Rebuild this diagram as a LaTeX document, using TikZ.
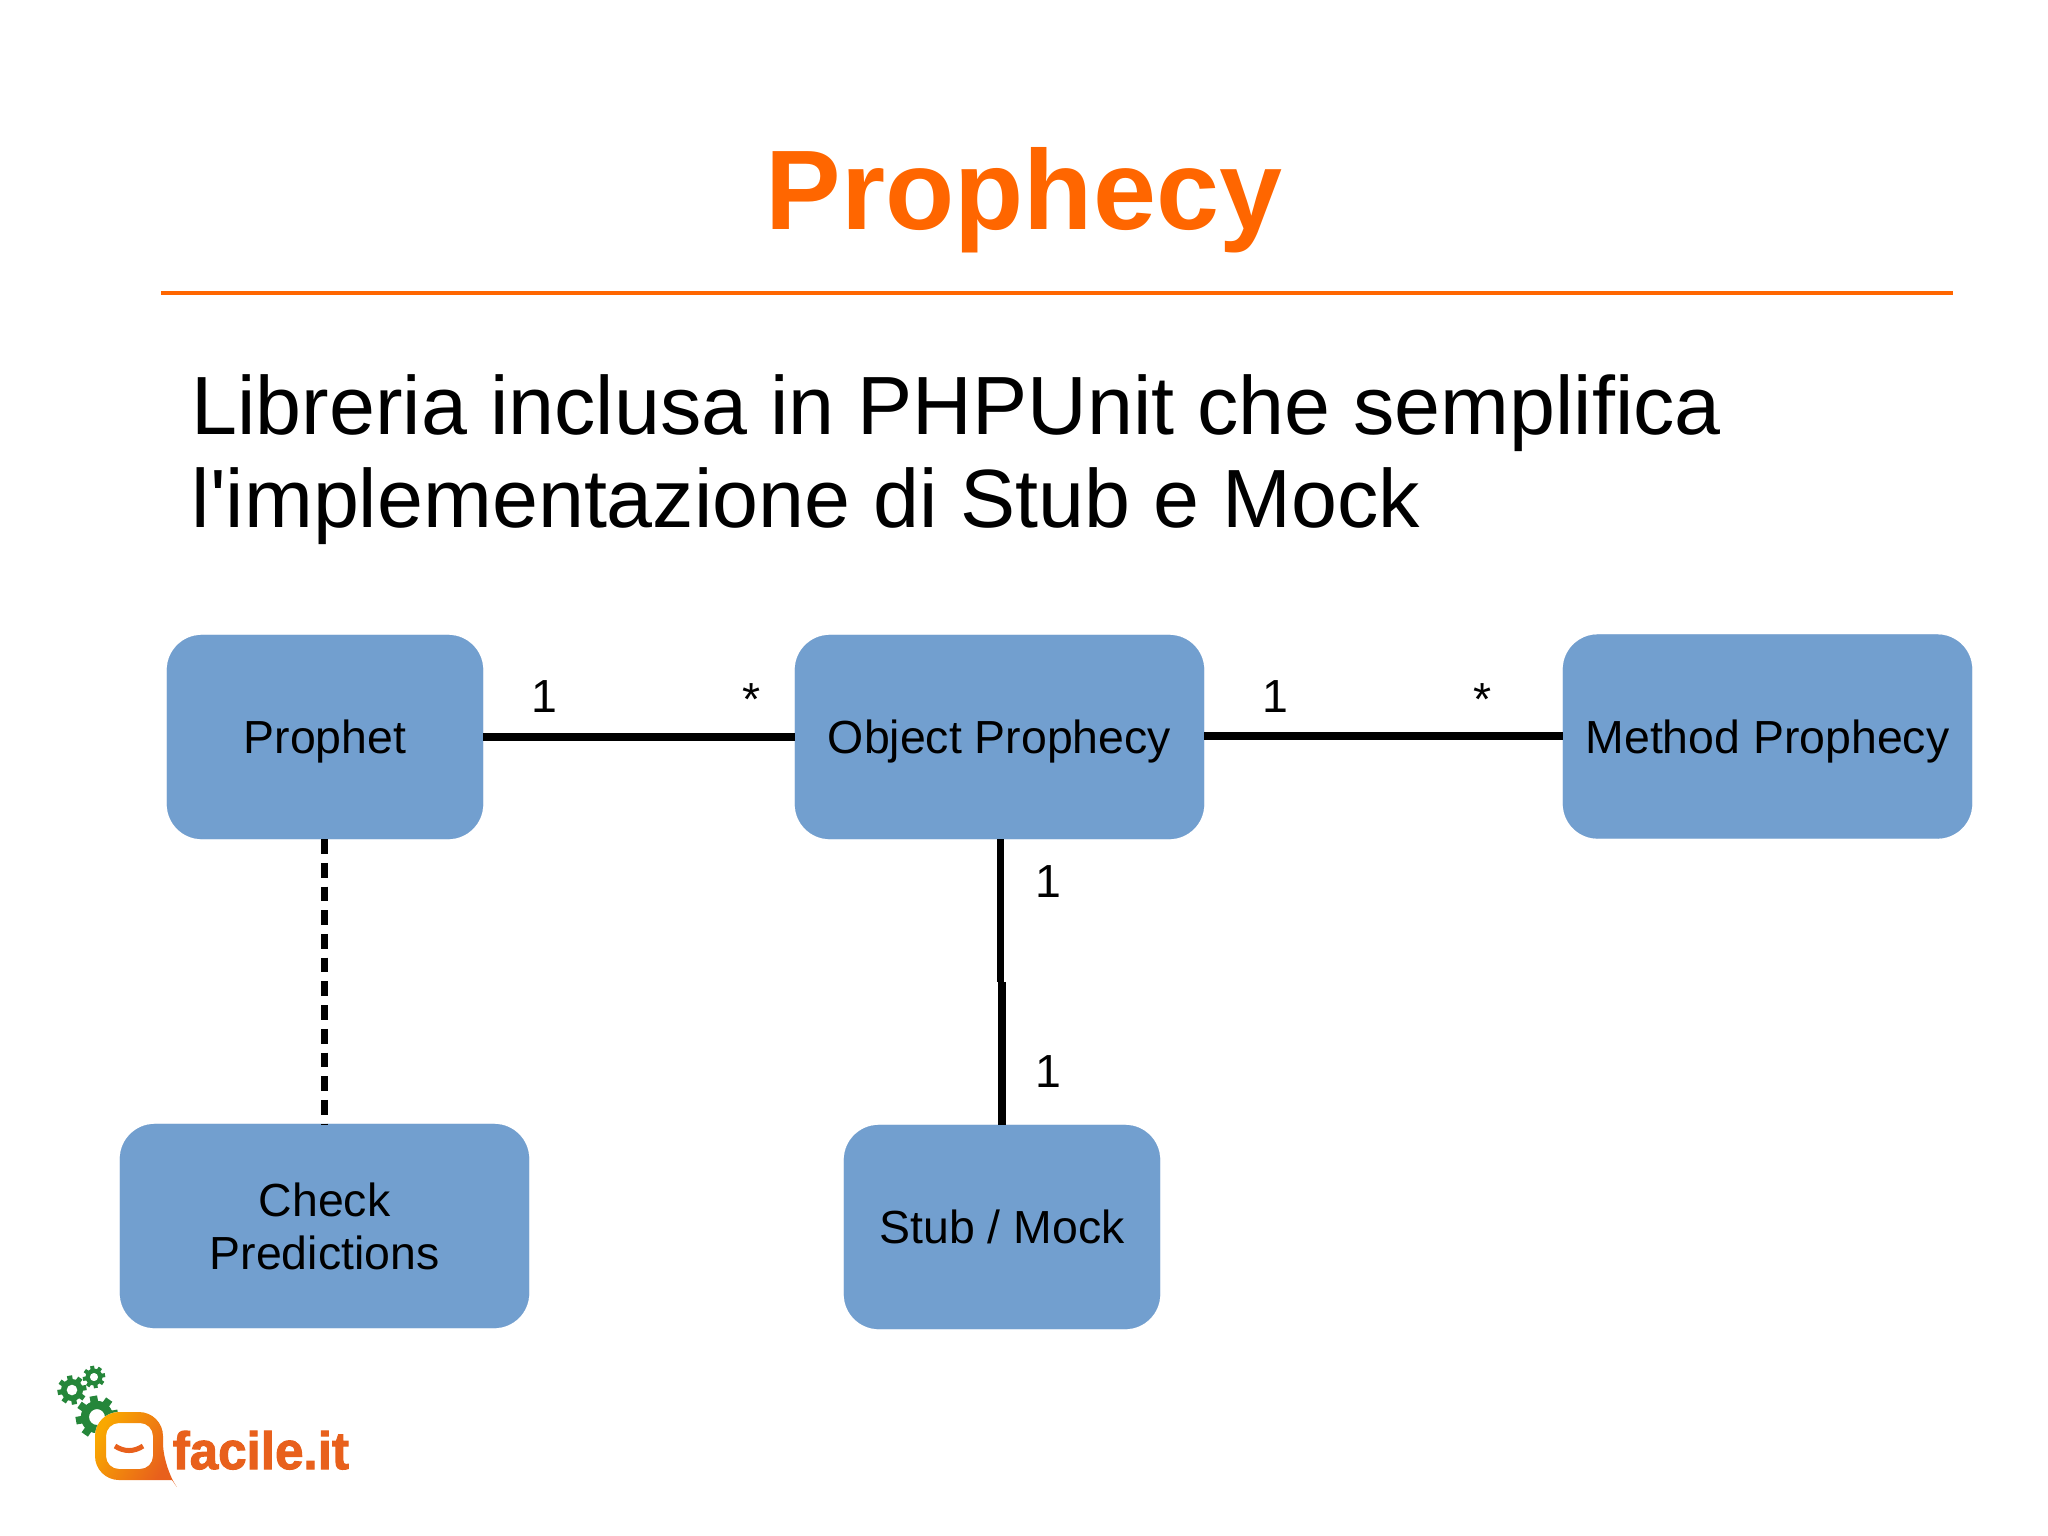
\documentclass[tikz,border=0pt]{standalone}
\usepackage{fontspec}
\setmainfont[Ligatures=TeXOff]{Liberation Sans}
\newfontfamily\logofont[BoldFeatures={FakeBold=2}]{Liberation Sans}
\usetikzlibrary{calc}

\definecolor{titleorange}{HTML}{FF6600}
\definecolor{boxblue}{HTML}{729FCF}
\definecolor{boxedge}{HTML}{6C98C9}
\definecolor{logoorange}{HTML}{E8601C}
\definecolor{logoyellow}{HTML}{F9A800}
\definecolor{geargreen}{HTML}{25863A}

\tikzset{
  classbox/.style={draw=boxedge,line width=0.01mm,fill=boxblue,rounded corners=0.35cm,
    minimum height=2.04cm,align=center,inner sep=0pt,text depth=0pt,
    font=\fontsize{13.2}{14.9}\selectfont},
  mult/.style={inner sep=0pt,font=\fontsize{13.2}{15}\selectfont},
  assoc/.style={line width=0.08cm},
  depend/.style={line width=0.07cm,dash pattern=on 0.147cm off 0.09cm}
}

\newcommand{\gearwheel}[3]{%
  \foreach \a in {0,45,...,315} {\fill[geargreen,shift={(#1,#2)},rotate=\a+10] (#3*0.7,-#3*0.2) rectangle (#3*1.12,#3*0.2);};
  \fill[geargreen,even odd rule] (#1,#2) circle (#3*0.0085cm) (#1,#2) circle (#3*0.0042cm);
}

\begin{document}
\begin{tikzpicture}[x=0.01cm,y=-0.01cm]
    \useasboundingbox (0,0) rectangle (2048,1535);

    \node[anchor=base,text=titleorange,inner sep=0pt,font=\fontsize{32.2}{36}\bfseries\selectfont] (title) at (1024,229) {Prophecy};
    \coordinate (ruleleft) at (161,293);
    \coordinate (ruleright) at (1953,293);
    \draw[titleorange,line width=0.04cm] (ruleleft) -- (ruleright);

    \node[anchor=base west,inner sep=0pt,font=\fontsize{23.5}{26}\selectfont] (lineone) at (191,434) {Libreria inclusa in PHPUnit che semplifica};
    \node[anchor=base west,inner sep=0pt,font=\fontsize{23.5}{26}\selectfont] (linetwo) at (191,527) {l'implementazione di Stub e Mock};

    \node[classbox,minimum width=3.16cm] (prophet) at (325,737) {Prophet};
    \node[classbox,minimum width=4.09cm] (object) at (999.5,737) {Object Prophecy};
    \node[classbox,minimum width=4.09cm] (method) at (1767.5,736.5) {Method Prophecy};
    \node[classbox,minimum width=4.09cm] (check) at (324.5,1226) {Check\\Predictions};
    \node[classbox,minimum width=3.16cm] (stub) at (1002,1227) {Stub / Mock};

    \coordinate (midleft) at (640,736.5);
    \coordinate (midright) at (1384,736);
    \coordinate (middown) at (1000.5,982);
    \coordinate (midcheck) at (324,982);

    \path[assoc] (prophet.east |- midleft) edge (midleft)
          (midleft)                        edge (object.west |- midleft)
          (object.east |- midright)        edge (midright)
          (midright)                       edge (method.west |- midright);
    \path[assoc,line width=0.075cm] (middown |- object.south) edge (middown)
          (middown -| stub.north)          edge (stub.north);
    \path[depend] (midcheck |- prophet.south) edge (midcheck |- check.north);

    \node[mult] (oneleft) at (544,697) {1};
    \node[mult] (manyleft) at (752,700) {*};
    \node[mult] (oneright) at (1275,697) {1};
    \node[mult] (manyright) at (1483,700) {*};
    \node[mult] (oneup) at (1048,882) {1};
    \node[mult] (onedown) at (1048,1072) {1};

    \gearwheel{72}{1390}{13}
    \gearwheel{94}{1377}{10}
    \gearwheel{97}{1417}{19}
    \fill[white,rounded corners=0.24cm] (95,1412) rectangle (163,1480);
    \shade[left color=logoyellow,right color=logoorange,shading angle=60,even odd rule]
      [rounded corners=0.24cm] (95,1412) -- (163,1412) -- (163,1467) [sharp corners] -- (172,1480) -- (120,1480) [rounded corners=0.24cm] -- (95,1480) -- cycle
      [rounded corners=0.13cm] (106,1423) rectangle (153,1469);
    \draw[logoorange,line width=0.05cm] (115,1446) .. controls (124,1452) and (134,1452) .. (143,1446);
    \node[anchor=base west,inner sep=0pt,text=logoorange,xscale=0.97,font=\logofont\fontsize{15}{18}\bfseries\selectfont] (logotext) at (172,1469) {facile.it};
\end{tikzpicture}
\end{document}
